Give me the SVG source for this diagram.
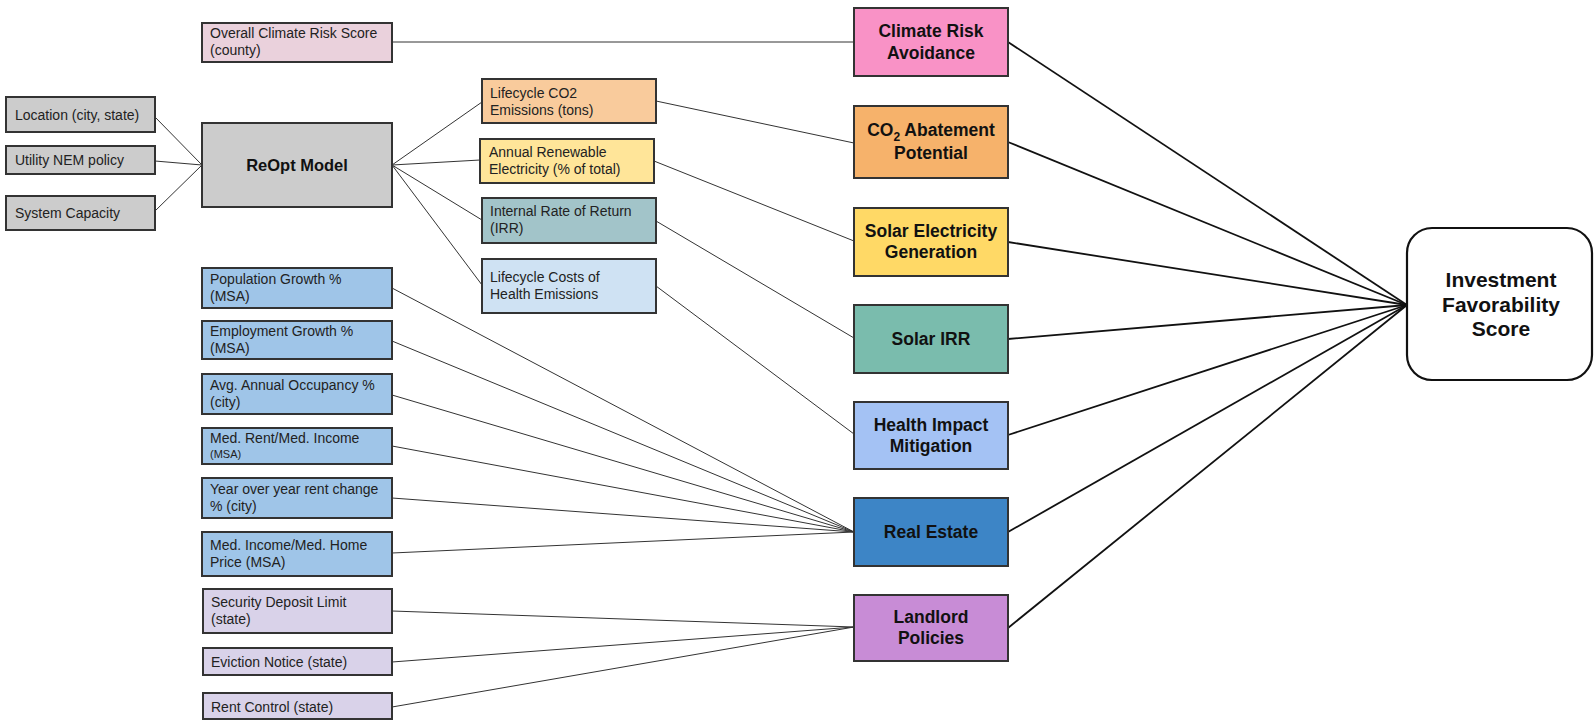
<svg xmlns="http://www.w3.org/2000/svg" width="1595" height="721" viewBox="0 0 1595 721">
<style>
  .box { stroke: #333333; stroke-width: 2; }
  .t { font-family: "Liberation Sans", Arial, sans-serif; font-size: 14px; fill: #222222; }
  .ts { font-family: "Liberation Sans", Arial, sans-serif; font-size: 11px; fill: #222222; }
  .b { font-family: "Liberation Sans", Arial, sans-serif; font-size: 17.5px; font-weight: bold; fill: #111111; text-anchor: middle; }
  .bi { font-family: "Liberation Sans", Arial, sans-serif; font-size: 21px; font-weight: bold; fill: #111111; text-anchor: middle; }
  .thin { stroke: #333333; stroke-width: 1; fill: none; }
  .thick { stroke: #111111; stroke-width: 1.8; fill: none; }
</style>
<rect width="1595" height="721" fill="#ffffff"/>

<g id="connectors">
  <line class="thin" x1="392" y1="42" x2="854" y2="42"/>
  <line class="thin" x1="155" y1="117" x2="202" y2="165"/>
  <line class="thin" x1="155" y1="161" x2="202" y2="165"/>
  <line class="thin" x1="155" y1="211" x2="202" y2="165"/>
  <line class="thin" x1="392" y1="165" x2="482" y2="102"/>
  <line class="thin" x1="392" y1="165" x2="480" y2="160"/>
  <line class="thin" x1="392" y1="165" x2="482" y2="220"/>
  <line class="thin" x1="392" y1="165" x2="482" y2="285"/>
  <line class="thin" x1="656" y1="101" x2="854" y2="143"/>
  <line class="thin" x1="654" y1="161" x2="854" y2="241"/>
  <line class="thin" x1="656" y1="221" x2="854" y2="338"/>
  <line class="thin" x1="656" y1="286" x2="854" y2="434"/>
  <line class="thin" x1="392" y1="288" x2="854" y2="532"/>
  <line class="thin" x1="392" y1="341" x2="854" y2="532"/>
  <line class="thin" x1="392" y1="395" x2="854" y2="532"/>
  <line class="thin" x1="392" y1="446" x2="854" y2="532"/>
  <line class="thin" x1="392" y1="498" x2="854" y2="532"/>
  <line class="thin" x1="392" y1="553" x2="854" y2="532"/>
  <line class="thin" x1="392" y1="611" x2="854" y2="627"/>
  <line class="thin" x1="392" y1="662" x2="854" y2="627"/>
  <line class="thin" x1="392" y1="707" x2="854" y2="627"/>
  <line class="thick" x1="1008" y1="42" x2="1407" y2="305"/>
  <line class="thick" x1="1008" y1="142" x2="1407" y2="305"/>
  <line class="thick" x1="1008" y1="242" x2="1407" y2="305"/>
  <line class="thick" x1="1008" y1="339" x2="1407" y2="305"/>
  <line class="thick" x1="1008" y1="435" x2="1407" y2="305"/>
  <line class="thick" x1="1008" y1="532" x2="1407" y2="305"/>
  <line class="thick" x1="1008" y1="628" x2="1407" y2="305"/>
</g>

<g id="overall-climate-risk">
  <rect class="box" x="202" y="23" width="190" height="39" fill="#ead1dc"/>
  <text class="t" x="210" y="38">Overall Climate Risk Score</text>
  <text class="t" x="210" y="55">(county)</text>
</g>

<g id="location">
  <rect class="box" x="6" y="97" width="149" height="35" fill="#cccccc"/>
  <text class="t" x="15" y="120">Location (city, state)</text>
</g>
<g id="utility-nem">
  <rect class="box" x="6" y="146" width="149" height="28" fill="#cccccc"/>
  <text class="t" x="15" y="165">Utility NEM policy</text>
</g>
<g id="system-capacity">
  <rect class="box" x="6" y="196" width="149" height="34" fill="#cccccc"/>
  <text class="t" x="15" y="218">System Capacity</text>
</g>
<g id="reopt-model">
  <rect class="box" x="202" y="123" width="190" height="84" fill="#cccccc"/>
  <text class="b" x="297" y="171" style="font-size:16.5px">ReOpt Model</text>
</g>

<g id="lifecycle-co2">
  <rect class="box" x="482" y="79" width="174" height="44" fill="#f9cb9c"/>
  <text class="t" x="490" y="98">Lifecycle CO2</text>
  <text class="t" x="490" y="115">Emissions (tons)</text>
</g>
<g id="annual-renewable">
  <rect class="box" x="480" y="139" width="174" height="44" fill="#ffe599"/>
  <text class="t" x="489" y="157">Annual Renewable</text>
  <text class="t" x="489" y="174">Electricity (% of total)</text>
</g>
<g id="irr">
  <rect class="box" x="482" y="198" width="174" height="45" fill="#a2c4c9"/>
  <text class="t" x="490" y="216">Internal Rate of Return</text>
  <text class="t" x="490" y="233">(IRR)</text>
</g>
<g id="lifecycle-health">
  <rect class="box" x="482" y="259" width="174" height="54" fill="#cfe2f3"/>
  <text class="t" x="490" y="282">Lifecycle Costs of</text>
  <text class="t" x="490" y="299">Health Emissions</text>
</g>

<g id="population-growth">
  <rect class="box" x="202" y="268" width="190" height="40" fill="#9fc5e8"/>
  <text class="t" x="210" y="284">Population Growth %</text>
  <text class="t" x="210" y="301">(MSA)</text>
</g>
<g id="employment-growth">
  <rect class="box" x="202" y="321" width="190" height="38" fill="#9fc5e8"/>
  <text class="t" x="210" y="336">Employment Growth %</text>
  <text class="t" x="210" y="353">(MSA)</text>
</g>
<g id="occupancy">
  <rect class="box" x="202" y="374" width="190" height="40" fill="#9fc5e8"/>
  <text class="t" x="210" y="390">Avg. Annual Occupancy %</text>
  <text class="t" x="210" y="407">(city)</text>
</g>
<g id="rent-income">
  <rect class="box" x="202" y="428" width="190" height="36" fill="#9fc5e8"/>
  <text class="t" x="210" y="443">Med. Rent/Med. Income</text>
  <text class="ts" x="210" y="458">(MSA)</text>
</g>
<g id="rent-change">
  <rect class="box" x="202" y="478" width="190" height="40" fill="#9fc5e8"/>
  <text class="t" x="210" y="494">Year over year rent change</text>
  <text class="t" x="210" y="511">% (city)</text>
</g>
<g id="income-home">
  <rect class="box" x="202" y="532" width="190" height="44" fill="#9fc5e8"/>
  <text class="t" x="210" y="550">Med. Income/Med. Home</text>
  <text class="t" x="210" y="567">Price (MSA)</text>
</g>
<g id="security-deposit">
  <rect class="box" x="203" y="589" width="189" height="44" fill="#d9d2e9"/>
  <text class="t" x="211" y="607">Security Deposit Limit</text>
  <text class="t" x="211" y="624">(state)</text>
</g>
<g id="eviction-notice">
  <rect class="box" x="203" y="648" width="189" height="27" fill="#d9d2e9"/>
  <text class="t" x="211" y="667">Eviction Notice (state)</text>
</g>
<g id="rent-control">
  <rect class="box" x="203" y="693" width="189" height="26" fill="#d9d2e9"/>
  <text class="t" x="211" y="712">Rent Control (state)</text>
</g>

<g id="climate-risk-avoidance">
  <rect class="box" x="854" y="8" width="154" height="68" fill="#f992c6"/>
  <text class="b" x="931" y="37">Climate Risk</text>
  <text class="b" x="931" y="59">Avoidance</text>
</g>
<g id="co2-abatement">
  <rect class="box" x="854" y="106" width="154" height="72" fill="#f6b26b"/>
  <text class="b" x="931" y="136">CO<tspan style="font-size:12px" dy="5">2</tspan><tspan dy="-5"> Abatement</tspan></text>
  <text class="b" x="931" y="159">Potential</text>
</g>
<g id="solar-electricity">
  <rect class="box" x="854" y="208" width="154" height="68" fill="#ffd966"/>
  <text class="b" x="931" y="237">Solar Electricity</text>
  <text class="b" x="931" y="258">Generation</text>
</g>
<g id="solar-irr">
  <rect class="box" x="854" y="305" width="154" height="68" fill="#7abcad"/>
  <text class="b" x="931" y="345">Solar IRR</text>
</g>
<g id="health-impact">
  <rect class="box" x="854" y="402" width="154" height="67" fill="#a4c2f4"/>
  <text class="b" x="931" y="431">Health Impact</text>
  <text class="b" x="931" y="452">Mitigation</text>
</g>
<g id="real-estate">
  <rect class="box" x="854" y="498" width="154" height="68" fill="#3d85c6"/>
  <text class="b" x="931" y="538">Real Estate</text>
</g>
<g id="landlord-policies">
  <rect class="box" x="854" y="595" width="154" height="66" fill="#c88cd6"/>
  <text class="b" x="931" y="623">Landlord</text>
  <text class="b" x="931" y="644">Policies</text>
</g>

<g id="investment-favorability">
  <rect x="1407" y="228" width="185" height="152" rx="25" ry="25" fill="#ffffff" stroke="#111111" stroke-width="2.2"/>
  <text class="bi" x="1501" y="287">Investment</text>
  <text class="bi" x="1501" y="312">Favorability</text>
  <text class="bi" x="1501" y="336">Score</text>
</g>
</svg>
